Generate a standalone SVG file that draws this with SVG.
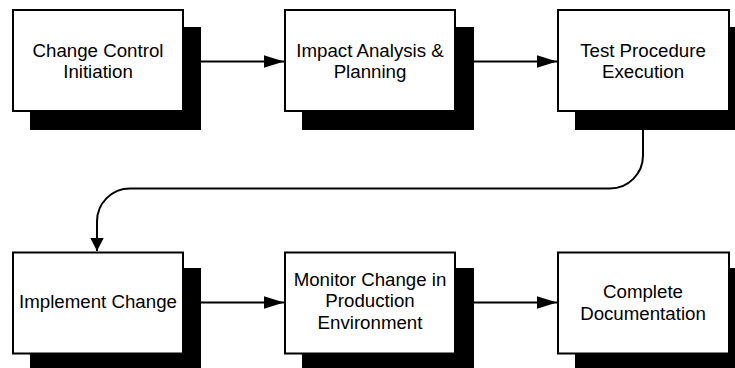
<svg xmlns="http://www.w3.org/2000/svg" width="735" height="368" viewBox="0 0 735 368">
  <style>
    .shadow { fill: #000; }
    .box { fill: #fff; stroke: #000; stroke-width: 2; }
    .label { font-family: "Liberation Sans", Arial, sans-serif; font-size: 18.7px; fill: #000; text-anchor: middle; }
    .link { fill: none; stroke: #000; stroke-width: 2; }
  </style>
  <defs>
    <marker id="arrowH" markerUnits="userSpaceOnUse" markerWidth="20" markerHeight="14" refX="20" refY="7" orient="auto">
      <path d="M0,0.7 L20,7 L0,13.3 Z" fill="#000"/>
    </marker>
    <marker id="arrowV" markerUnits="userSpaceOnUse" markerWidth="14" markerHeight="14" refX="13" refY="7" orient="auto">
      <path d="M0,0.3 L13,7 L0,13.7 Z" fill="#000"/>
    </marker>
  </defs>

  <g id="connectors">
    <line class="link" x1="184" y1="61.5" x2="284" y2="61.5" marker-end="url(#arrowH)"/>
    <line class="link" x1="456" y1="61.5" x2="557" y2="61.5" marker-end="url(#arrowH)"/>
    <path class="link" d="M643,112 V155.5 A33,33 0 0 1 610,188.5 H130 A33,33 0 0 0 97,221.5 V251" marker-end="url(#arrowV)"/>
    <line class="link" x1="184" y1="302.5" x2="284" y2="302.5" marker-end="url(#arrowH)"/>
    <line class="link" x1="456" y1="302.5" x2="557" y2="302.5" marker-end="url(#arrowH)"/>
  </g>

  <g id="node-change-control">
    <rect class="shadow" x="30" y="27" width="171" height="103"/>
    <rect class="box" x="13" y="10" width="170" height="101"/>
    <text class="label" x="98" y="56.5">Change Control</text>
    <text class="label" x="98" y="78">Initiation</text>
  </g>

  <g id="node-impact-analysis">
    <rect class="shadow" x="302" y="27" width="172" height="103"/>
    <rect class="box" x="285" y="10" width="170" height="101"/>
    <text class="label" x="370" y="56.5">Impact Analysis &amp;</text>
    <text class="label" x="370" y="78">Planning</text>
  </g>

  <g id="node-test-procedure">
    <rect class="shadow" x="575" y="27" width="172" height="103"/>
    <rect class="box" x="558" y="10" width="171" height="101"/>
    <text class="label" x="643" y="56.5">Test Procedure</text>
    <text class="label" x="643" y="78">Execution</text>
  </g>

  <g id="node-implement-change">
    <rect class="shadow" x="30" y="268" width="171" height="103"/>
    <rect class="box" x="13" y="252.5" width="170" height="101"/>
    <text class="label" x="98" y="307.5">Implement Change</text>
  </g>

  <g id="node-monitor-change">
    <rect class="shadow" x="302" y="268" width="172" height="103"/>
    <rect class="box" x="285" y="252.5" width="170" height="101"/>
    <text class="label" x="370" y="285.5">Monitor Change in</text>
    <text class="label" x="370" y="307">Production</text>
    <text class="label" x="370" y="329">Environment</text>
  </g>

  <g id="node-complete-documentation">
    <rect class="shadow" x="575" y="268" width="172" height="103"/>
    <rect class="box" x="558" y="252.5" width="171" height="101"/>
    <text class="label" x="643" y="297.5">Complete</text>
    <text class="label" x="643" y="319.5">Documentation</text>
  </g>
</svg>
